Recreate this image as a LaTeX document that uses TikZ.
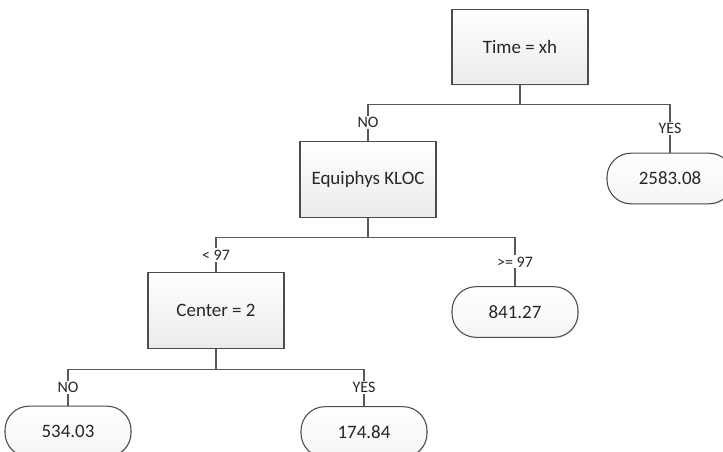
\documentclass[tikz,border=0pt]{standalone}
\usepackage{fontspec}
\setmainfont{Carlito}
\usetikzlibrary{shadows}

\begin{document}
\begin{tikzpicture}[x=0.75pt,y=-0.75pt,
	split/.style={draw=black!70,line width=0.8pt,top color=white,bottom color=black!8,
		minimum width=102pt,minimum height=56.5pt,text=black!85,font=\fontsize{14.2}{16}\selectfont,
		drop shadow={shadow xshift=0.8pt,shadow yshift=-0.8pt,opacity=0.12}},
	leaf/.style={draw=black!70,line width=0.8pt,rounded corners=18pt,top color=white,bottom color=black!4,
		minimum width=94.5pt,minimum height=38pt,text=black!85,font=\fontsize{14.2}{16}\selectfont,
		drop shadow={shadow xshift=0.8pt,shadow yshift=-0.8pt,opacity=0.12}},
	link/.style={draw=black!65,line width=0.8pt},
	lbl/.style={fill=white,inner sep=1pt,text=black!85,font=\fontsize{12}{14}\selectfont}]
	\clip (0,0) rectangle (723,452);
	\node (time) [split] at (520,47) {Time = xh};
	\node (kloc) [split] at (368,179.5) {Equiphys KLOC};
	\node (center) [split] at (216,310.5) {Center = 2};
	\node (v2583) [leaf] at (670,178.5) {2583.08};
	\node (v841) [leaf] at (515,312) {841.27};
	\node (v534) [leaf] at (68,431.5) {534.03};
	\node (v174) [leaf] at (364,432) {174.84};
	\coordinate (j1) at ([yshift=-14.25pt]time.south);
	\coordinate (j2) at ([yshift=-15pt]kloc.south);
	\coordinate (j3) at ([yshift=-15.5pt]center.south);
	\draw[link] (time.south) -- (j1) -| node[lbl,pos=0.75]{NO} (kloc.north);
	\draw[link] (j1) -| node[lbl,pos=0.75]{YES} (v2583.north);
	\draw[link] (kloc.south) -- (j2) -| node[lbl,pos=0.75]{< 97} (center.north);
	\draw[link] (j2) -| node[lbl,pos=0.75]{>= 97} (v841.north);
	\draw[link] (center.south) -- (j3) -| node[lbl,pos=0.75]{NO} (v534.north);
	\draw[link] (j3) -| node[lbl,pos=0.75]{YES} (v174.north);
\end{tikzpicture}
\end{document}
